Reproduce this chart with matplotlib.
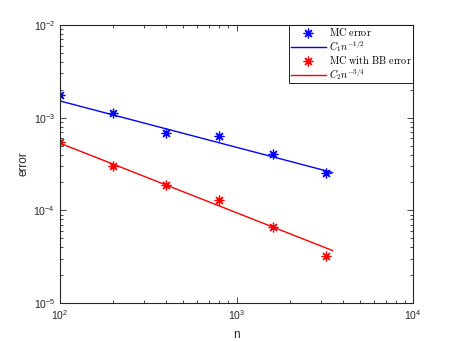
import matplotlib
matplotlib.use("Agg")
import matplotlib.pyplot as plt
import numpy as np
from matplotlib.ticker import LogLocator, NullFormatter
from matplotlib.font_manager import FontProperties

plt.rcParams['font.family'] = ['Liberation Sans', 'DejaVu Sans']
plt.rcParams['mathtext.fontset'] = 'custom'
plt.rcParams['mathtext.rm'] = 'Liberation Sans'
plt.rcParams['mathtext.it'] = 'Liberation Sans:italic'
plt.rcParams['mathtext.bf'] = 'Liberation Sans:bold'

n = [100, 200, 400, 800, 1600, 3200]
mc_error = [1.76e-3, 1.11e-3, 6.9e-4, 6.35e-4, 4.06e-4, 2.51e-4]
bb_error = [5.5e-4, 3.0e-4, 1.88e-4, 1.29e-4, 6.67e-5, 3.24e-5]
fit_n = [100, 3500]
C1 = 0.01514
C2 = 0.01676

fig = plt.figure(figsize=(4.57, 3.42), dpi=100)
ax = fig.add_axes([60/457, 1 - 303/342, (413-60)/457, (303-25)/342])

fit_n_arr = np.array(fit_n, dtype=float)
ast = (8, 2, 0)
ax.plot(n, mc_error, linestyle='none', marker=ast, color='#0000ff', markersize=7,
        markeredgewidth=0.9, label=r'$\mathrm{MC\ error}$')
ax.plot(fit_n_arr, C1 * fit_n_arr ** (-0.5), color='#0000ff', linewidth=1.0,
        label=r'$C_1n^{-1/2}$')
ax.plot(n, bb_error, linestyle='none', marker=ast, color='#ff0000', markersize=7,
        markeredgewidth=0.9, label=r'$\mathrm{MC\ with\ BB\ error}$')
ax.plot(fit_n_arr, C2 * fit_n_arr ** (-0.75), color='#ff0000', linewidth=1.0,
        label=r'$C_2n^{-3/4}$')

ax.set_xscale('log')
ax.set_yscale('log')
ax.set_xlim(1e2, 1e4)
ax.set_ylim(1e-5, 1e-2)
ax.set_xticks([1e2, 1e3, 1e4])
ax.set_yticks([1e-5, 1e-4, 1e-3, 1e-2])
ax.xaxis.set_minor_locator(LogLocator(base=10, subs=np.arange(2, 10), numticks=20))
ax.yaxis.set_minor_locator(LogLocator(base=10, subs=np.arange(2, 10), numticks=20))
ax.xaxis.set_minor_formatter(NullFormatter())
ax.yaxis.set_minor_formatter(NullFormatter())

edge = '#262626'
for s in ax.spines.values():
    s.set_color(edge)
    s.set_linewidth(0.8)
ax.tick_params(which='both', direction='in', top=True, right=True, color=edge,
               labelcolor=edge, labelsize=7.5)
ax.tick_params(which='major', length=4, width=0.6)
ax.tick_params(which='minor', length=2, width=0.6)

ax.set_xlabel('n', fontsize=8.5, color=edge, labelpad=5)
ax.set_ylabel('error', fontsize=8.5, color=edge, labelpad=3)

legprop = FontProperties(size=7.3, math_fontfamily='cm')
leg = ax.legend(loc='upper right', borderaxespad=0.0, prop=legprop, frameon=True,
                fancybox=False, framealpha=1, edgecolor='black', handlelength=3.5,
                labelspacing=0.0, borderpad=0.12, handletextpad=0.3)
leg.get_frame().set_linewidth(0.6)

fig.savefig('out.png', dpi=100)
